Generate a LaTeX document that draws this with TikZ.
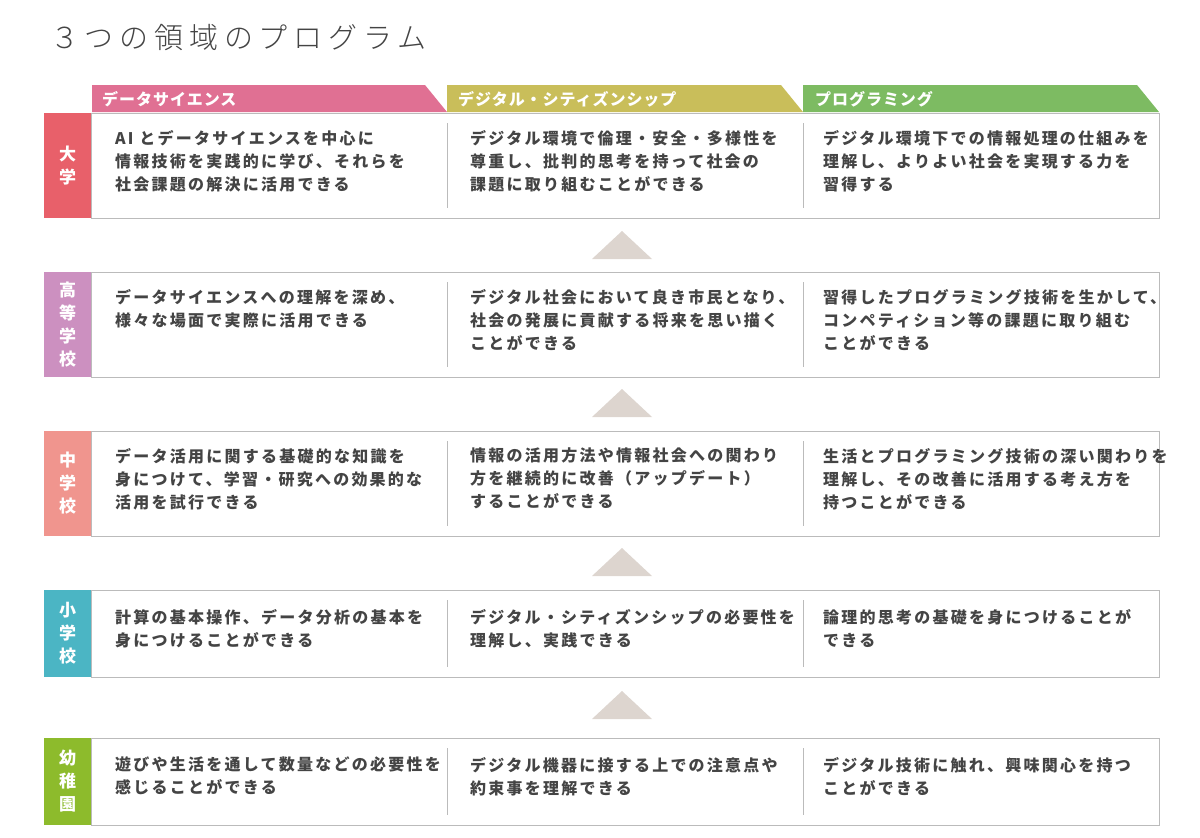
\documentclass[tikz,border=0pt]{standalone}
\usepackage{fontspec}
\setmainfont{Noto Sans CJK JP}[LetterSpace=14]
\newfontfamily\titlefont{Noto Sans CJK JP Light}[LetterSpace=20]
\newfontfamily\tabfont{Noto Sans CJK JP}[LetterSpace=6]
\definecolor{txt}{HTML}{444444}
\definecolor{bord}{HTML}{BBBBBB}
\definecolor{tabA}{HTML}{E07093}
\definecolor{tabB}{HTML}{C9BE5A}
\definecolor{tabC}{HTML}{7DBB62}
\definecolor{cU}{HTML}{E8606A}
\definecolor{cH}{HTML}{CC90C0}
\definecolor{cM}{HTML}{F0958E}
\definecolor{cE}{HTML}{4BB5C4}
\definecolor{cK}{HTML}{8DBB2C}
\definecolor{tri}{HTML}{DDD5CF}
\begin{document}
\begin{tikzpicture}[x=1pt,y=-1pt,
 cell/.style={anchor=north west,align=left,text=txt,font=\fontsize{16}{23}\selectfont\bfseries,inner sep=0},
 lab/.style={anchor=center,align=center,text=white,font=\fontsize{17}{23}\selectfont\bfseries,inner sep=0},
 tabtxt/.style={anchor=west,text=white,font=\fontsize{16}{18}\selectfont\tabfont\bfseries,inner sep=0}]
\useasboundingbox (0,0) rectangle (1200,838);
\node[anchor=west,inner sep=0,font=\fontsize{29}{30}\selectfont\titlefont,text=txt] (title) at (50,38) {３つの領域のプログラム};
% tabs
\fill[tabA] (92,85) -- (425,85) -- (447,112) -- (92,112) -- cycle;
\fill[tabB] (447,85) -- (781,85) -- (803,112) -- (447,112) -- cycle;
\fill[tabC] (803,85) -- (1137,85) -- (1159,112) -- (803,112) -- cycle;
\node[tabtxt] (ta) at (102,99) {データサイエンス};
\node[tabtxt] (tb) at (458,99) {デジタル・シティズンシップ};
\node[tabtxt] (tc) at (815,99) {プログラミング};
% rows
\newcommand{\rowbox}[5]{%
 \draw[bord] (91,#1) rectangle (1159,#2);
 \fill[#3] (44,#1) rectangle (91,#2);
 \node[lab] (l#5) at (67.5,{(#1+#2)/2}) {#4};
 \draw[bord] (447,{#1+10}) -- (447,{#2-10});
 \draw[bord] (803,{#1+10}) -- (803,{#2-10});
}
\rowbox{113}{218}{cU}{大\\学}{u}
\rowbox{272}{377}{cH}{高\\等\\学\\校}{h}
\rowbox{431}{536}{cM}{中\\学\\校}{m}
\rowbox{590}{677}{cE}{小\\学\\校}{e}
\rowbox{738}{825}{cK}{幼\\稚\\園}{k}
% triangles
\foreach \y in {259,417,576,719}{\fill[tri] (592,\y) -- (652,\y) -- (622,\y-28) -- cycle;}
% texts
\node[cell] (u1) at (115,130) {AI とデータサイエンスを中心に\\情報技術を実践的に学び、それらを\\社会課題の解決に活用できる};
\node[cell] (u2) at (470,130) {デジタル環境で倫理・安全・多様性を\\尊重し、批判的思考を持って社会の\\課題に取り組むことができる};
\node[cell] (u3) at (823,130) {デジタル環境下での情報処理の仕組みを\\理解し、よりよい社会を実現する力を\\習得する};
\node[cell] (h1) at (115,289) {データサイエンスへの理解を深め、\\様々な場面で実際に活用できる};
\node[cell] (h2) at (470,289) {デジタル社会において良き市民となり、\\社会の発展に貢献する将来を思い描く\\ことができる};
\node[cell] (h3) at (823,289) {習得したプログラミング技術を生かして、\\コンペティション等の課題に取り組む\\ことができる};
\node[cell] (m1) at (115,448) {データ活用に関する基礎的な知識を\\身につけて、学習・研究への効果的な\\活用を試行できる};
\node[cell] (m2) at (470,448) {情報の活用方法や情報社会への関わり\\方を継続的に改善（アップデート）\\することができる};
\node[cell] (m3) at (823,448) {生活とプログラミング技術の深い関わりを\\理解し、その改善に活用する考え方を\\持つことができる};
\node[cell] (e1) at (115,609) {計算の基本操作、データ分析の基本を\\身につけることができる};
\node[cell] (e2) at (470,609) {デジタル・シティズンシップの必要性を\\理解し、実践できる};
\node[cell] (e3) at (823,609) {論理的思考の基礎を身につけることが\\できる};
\node[cell] (k1) at (115,757) {遊びや生活を通して数量などの必要性を\\感じることができる};
\node[cell] (k2) at (470,757) {デジタル機器に接する上での注意点や\\約束事を理解できる};
\node[cell] (k3) at (823,757) {デジタル技術に触れ、興味関心を持つ\\ことができる};
\end{tikzpicture}
\end{document}
